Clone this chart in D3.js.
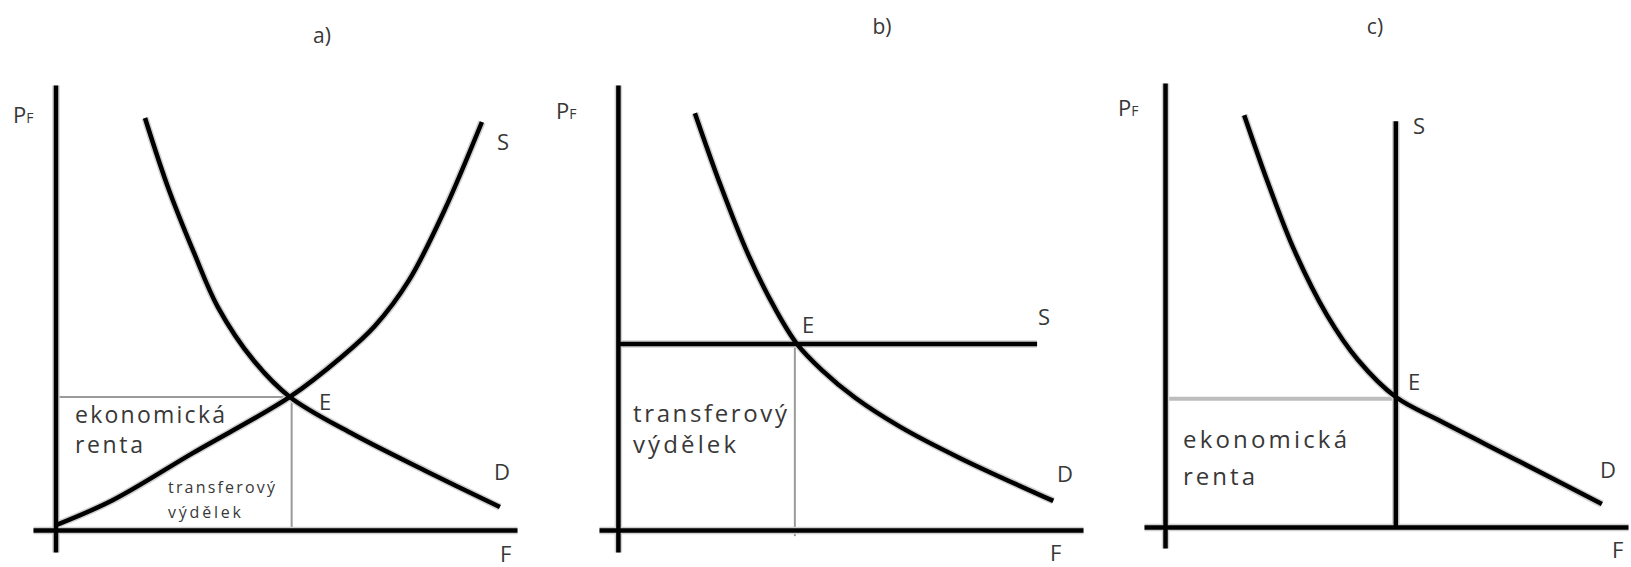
<!DOCTYPE html>
<html>
<head>
<meta charset="utf-8">
<script src="https://cdn.jsdelivr.net/npm/d3@7"></script>
<style>
  html, body { margin: 0; padding: 0; background: #fff; }
  svg { display: block; }
  text { font-family: "Open Sans", "Noto Sans", sans-serif; fill: #383838; }
</style>
</head>
<body>
<div id="chart"></div>
<script>
let width = 1631;
let height = 567;

// curve points, in axis units (0..100)
const titles = ["a)", "b)", "c)"];

const demandA = [[19.9, 93.5], [25.0, 77.8], [30.8, 62.9], [36.1, 50.6], [44.1, 38.4], [52.1, 30.2], [65.7, 22.0], [82.3, 13.4], [98.8, 5.2]];
const supplyA = [[0.1, 1.1], [12.8, 6.8], [30.6, 17.5], [52.1, 30.2], [63.4, 39.1], [71.0, 46.3], [78.6, 56.7], [86.4, 72.4], [94.8, 92.6]];
const equilA = [52.5, 30.2];

const demandB = [[17.1, 94.6], [22.7, 78.5], [28.9, 62.6], [35.1, 49.9], [39.8, 42.2], [45.3, 36.3], [52.7, 30.0], [62.7, 23.4], [76.0, 16.3], [96.7, 6.6]];
const supplyB = [[0, 42.2], [93.1, 42.2]];
const equilB = [39.3, 42.2];

const demandC = [[17.6, 93.5], [22.9, 78.1], [28.7, 62.9], [36.0, 48.1], [42.9, 37.9], [51.3, 29.5], [61.1, 24.1], [78.9, 14.8], [97.1, 5.2]];
const supplyC = [[51.3, 0], [51.3, 92.1]];
const equilC = [51.3, 29.1];

const areaLabelsA = [["ekonomická", "renta"], ["transferový", "výdělek"]];
const areaLabelsB = [["transferový", "výdělek"]];
const areaLabelsC = [["ekonomická", "renta"]];

// layout of each small diagram
const panels = [
  {
    title: titles[0], titleX: 322, titleY: 43,
    xDomain: [-5, 102.6], xRange: [33, 517],
    yDomain: [-5, 101], yRange: [552, 85],
    demand: demandA, supply: supplyA, eq: equilA,
    hGuide: true, vGuide: true, guideColor: "#9a9a9a", guideWidth: 2,
    labels: { P: [13, 123], F: [500, 562], S: [497, 150], D: [494, 480], E: [319, 410] },
    blocks: [
      { lines: areaLabelsA[0], x: 75, y: 423, dy: 30, size: 23, widths: [150, 68] },
      { lines: areaLabelsA[1], x: 168, y: 493, dy: 25, size: 16, widths: [107, 73] },
    ],
  },
  {
    title: titles[1], titleX: 882, titleY: 34,
    xDomain: [-4.2, 103.3], xRange: [599, 1083],
    yDomain: [-5, 101], yRange: [552, 85],
    demand: demandB, supply: supplyB, eq: equilB,
    hGuide: false, vGuide: true, guideColor: "#9a9a9a", guideWidth: 2, vGuideEnd: -1.4,
    labels: { P: [556, 119], F: [1050, 561], S: [1038, 325], D: [1057, 482], E: [802, 333] },
    blocks: [
      { lines: areaLabelsB[0], x: 633, y: 422, dy: 31, size: 24, widths: [154, 103] },
    ],
  },
  {
    title: titles[2], titleX: 1375, titleY: 34,
    xDomain: [-4.67, 102.9], xRange: [1144, 1628],
    yDomain: [-4.77, 100.8], yRange: [548, 83],
    demand: demandC, supply: supplyC, eq: equilC,
    hGuide: true, vGuide: false, guideColor: "#bdbdbd", guideWidth: 4,
    labels: { P: [1118, 116], F: [1612, 558], S: [1413, 134], D: [1600, 478], E: [1408, 390] },
    blocks: [
      { lines: areaLabelsC[0], x: 1183, y: 448, dy: 37, size: 24, widths: [164, 72] },
    ],
  },
];

const svg = d3
  .select("#chart")
  .append("svg")
  .attr("width", width)
  .attr("height", height);

panels.forEach((p) => {
  const xScale = d3.scaleLinear().domain(p.xDomain).range(p.xRange);
  const yScale = d3.scaleLinear().domain(p.yDomain).range(p.yRange);
  const g = svg.append("g");

  const line = d3
    .line()
    .x((d) => xScale(d[0]))
    .y((d) => yScale(d[1]))
    .curve(d3.curveCatmullRom.alpha(0.5));

  // thin guide lines to the equilibrium
  if (p.hGuide) {
    g.append("line")
      .attr("x1", xScale(0))
      .attr("x2", xScale(p.eq[0]))
      .attr("y1", yScale(p.eq[1]))
      .attr("y2", yScale(p.eq[1]))
      .attr("stroke", p.guideColor)
      .attr("stroke-width", p.guideWidth);
  }
  if (p.vGuide) {
    g.append("line")
      .attr("x1", xScale(p.eq[0]))
      .attr("x2", xScale(p.eq[0]))
      .attr("y1", yScale(p.eq[1]))
      .attr("y2", yScale(p.vGuideEnd || 0))
      .attr("stroke", p.guideColor)
      .attr("stroke-width", p.guideWidth);
  }

  // axes: bare domain lines, no ticks
  const xAxis = d3.axisBottom(xScale).tickValues([]).tickSizeOuter(0);
  const yAxis = d3.axisLeft(yScale).tickValues([]).tickSizeOuter(0);

  // soft grey halo first, then the black stroke (the source image is blurry)
  [["#d0d0d0", 7.5], ["#000", 4.5]].forEach(([col, w]) => {
    g.append("g")
      .attr("transform", `translate(0,${yScale(0)})`)
      .call(xAxis)
      .call((a) => a.select(".domain").attr("stroke", col).attr("stroke-width", w));
    g.append("g")
      .attr("transform", `translate(${xScale(0)},0)`)
      .call(yAxis)
      .call((a) => a.select(".domain").attr("stroke", col).attr("stroke-width", w));

    [p.supply, p.demand].forEach((curve) => {
      g.append("path")
        .datum(curve)
        .attr("fill", "none")
        .attr("stroke", col)
        .attr("stroke-width", w)
        .attr("d", line);
    });
  });

  // title
  g.append("text")
    .attr("x", p.titleX)
    .attr("y", p.titleY)
    .attr("text-anchor", "middle")
    .attr("font-size", 21)
    .text(p.title);

  // axis labels
  const pf = g.append("text")
    .attr("x", p.labels.P[0])
    .attr("y", p.labels.P[1])
    .attr("font-size", 22);
  pf.append("tspan").text("P");
  pf.append("tspan").attr("font-size", 14).text("F");

  ["F", "S", "D", "E"].forEach((k) => {
    g.append("text")
      .attr("x", p.labels[k][0])
      .attr("y", p.labels[k][1])
      .attr("font-size", 22)
      .text(k);
  });

  // area labels
  p.blocks.forEach((b) => {
    b.lines.forEach((t, i) => {
      g.append("text")
        .attr("x", b.x)
        .attr("y", b.y + i * b.dy)
        .attr("font-size", b.size)
        .attr("textLength", b.widths[i])
        .attr("lengthAdjust", "spacing")
        .text(t);
    });
  });
});
</script>
</body>
</html>
